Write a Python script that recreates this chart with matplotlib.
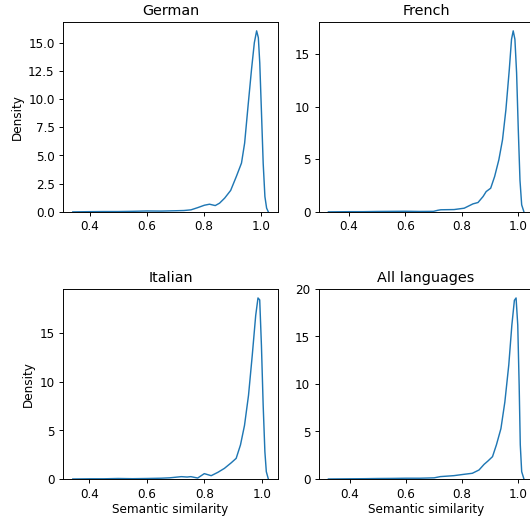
import matplotlib
matplotlib.use("Agg")
import matplotlib.pyplot as plt

# densities (x = semantic similarity, y = density)
german_x = [0.341, 0.40, 0.45, 0.50, 0.55, 0.60, 0.65, 0.70, 0.73, 0.755, 0.779, 0.802, 0.820,
            0.840, 0.855, 0.873, 0.894, 0.914, 0.932, 0.943, 0.955, 0.967, 0.977, 0.985,
            0.991, 0.996, 1.002, 1.008, 1.014, 1.020, 1.026]
german_y = [0.0, 0.02, 0.03, 0.03, 0.05, 0.08, 0.07, 0.10, 0.12, 0.18, 0.38, 0.59, 0.68,
            0.56, 0.77, 1.22, 1.90, 3.14, 4.33, 6.1, 9.4, 12.6, 15.0, 16.05,
            15.45, 13.2, 8.8, 4.3, 1.36, 0.33, 0.0]

french_x = [0.327, 0.40, 0.45, 0.50, 0.55, 0.60, 0.65, 0.70, 0.715, 0.726, 0.773, 0.809, 0.840,
            0.858, 0.876, 0.887, 0.903, 0.917, 0.932, 0.945, 0.957, 0.969, 0.977, 0.983,
            0.989, 0.995, 1.001, 1.007, 1.013, 1.021]
french_y = [0.0, 0.02, 0.02, 0.04, 0.05, 0.06, 0.04, 0.05, 0.15, 0.2, 0.22, 0.35, 0.76,
            0.89, 1.46, 1.93, 2.25, 3.36, 4.95, 6.85, 9.7, 13.5, 16.4, 17.2,
            16.4, 13.2, 7.8, 3.0, 0.67, 0.0]

italian_x = [0.342, 0.40, 0.45, 0.50, 0.55, 0.60, 0.65, 0.68, 0.70, 0.72, 0.74, 0.753, 0.777,
             0.800, 0.824, 0.847, 0.870, 0.894, 0.911, 0.926, 0.940, 0.954, 0.967, 0.979,
             0.987, 0.993, 0.999, 1.005, 1.011, 1.016, 1.023]
italian_y = [0.0, 0.02, 0.02, 0.05, 0.03, 0.05, 0.08, 0.12, 0.18, 0.24, 0.20, 0.24, 0.10,
             0.55, 0.34, 0.68, 1.09, 1.67, 2.12, 3.5, 5.5, 8.6, 12.7, 16.8,
             18.6, 18.4, 13.7, 7.6, 2.8, 0.75, 0.0]

all_x = [0.323, 0.40, 0.45, 0.50, 0.55, 0.60, 0.65, 0.70, 0.722, 0.770, 0.806, 0.836, 0.860,
         0.878, 0.892, 0.908, 0.922, 0.938, 0.952, 0.966, 0.977, 0.986, 0.992, 0.998,
         1.003, 1.007, 1.012, 1.020]
all_y = [0.0, 0.02, 0.03, 0.05, 0.06, 0.08, 0.08, 0.12, 0.25, 0.35, 0.49, 0.60, 0.95,
         1.54, 1.9, 2.35, 3.6, 5.3, 8.1, 12.0, 16.2, 18.8, 19.05, 16.2,
         9.9, 3.6, 0.77, 0.0]

titles = ["German", "French", "Italian", "All languages"]
curves = [(german_x, german_y), (french_x, french_y), (italian_x, italian_y), (all_x, all_y)]

W, H, DPI = 530, 516, 86
fig = plt.figure(figsize=(530.2 / DPI, 516.2 / DPI), dpi=DPI)

# axes boxes in pixels: left, top (right column runs past the image edge)
boxes = [(63, 22), (318.5, 22), (63, 289), (318.5, 289)]
aw, ah = 215, 190

for i, (title, (xs, ys)) in enumerate(zip(titles, curves)):
    left, top = boxes[i]
    ax = fig.add_axes([left / W, (H - top - ah) / H, aw / W, ah / H])
    ax.plot(xs, ys, color="#1f77b4", linewidth=1.2)
    ax.set_ylim(0, max(ys) * 1.05)
    ax.set_title(title)
    if i % 2 == 0:
        ax.set_ylabel("Density")
    if i >= 2:
        ax.set_xlabel("Semantic similarity", labelpad=2)

fig.savefig("out.png", dpi=DPI)
